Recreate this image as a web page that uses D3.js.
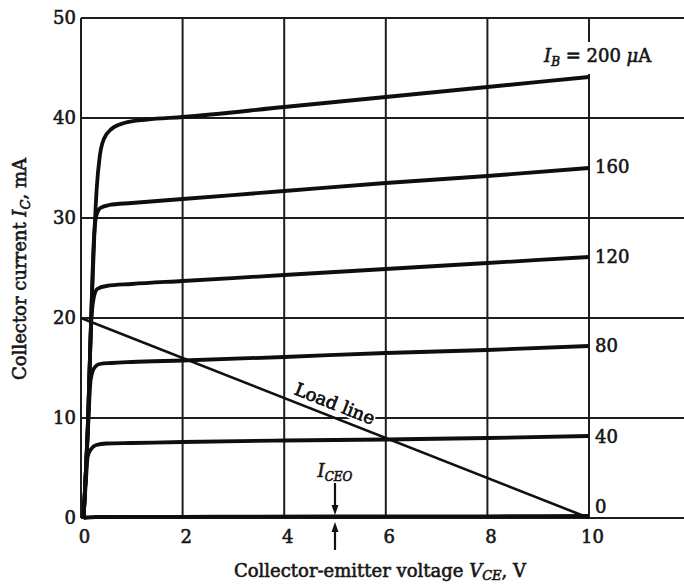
<!DOCTYPE html>
<html>
<head>
<meta charset="utf-8">
<script src="https://cdn.jsdelivr.net/npm/d3@7"></script>
<style>
  body { margin: 0; background: #fff; }
  svg text { font-family: "DejaVu Serif", serif; fill: #161616; }
  .lbl { stroke: #161616; stroke-width: 0.6px; }
</style>
</head>
<body>
<svg id="chart" width="684" height="586"></svg>
<script>
// tick values
var vTicks = [0, 2, 4, 6, 8, 10];
var iTicks = [0, 10, 20, 30, 40, 50];

// base current labels, top to bottom
var ibLabels = ["200", "160", "120", "80", "40", "0"];

// collector curves: [VCE (V), IC (mA)]
var ib200 = [[0.05, 0], [0.14, 10], [0.2, 20], [0.26, 28], [0.31, 33], [0.37, 36.2], [0.45, 37.9], [0.6, 38.9], [0.85, 39.5], [1.3, 39.85], [2, 40.1], [4, 41.1], [6, 42.1], [8, 43.1], [10, 44.1]];
var ib160 = [[0.05, 0], [0.14, 10], [0.2, 20], [0.25, 27.5], [0.3, 30.2], [0.38, 31], [0.55, 31.3], [1, 31.5], [2, 31.9], [4, 32.7], [6, 33.5], [8, 34.2], [10, 35]];
var ib120 = [[0.05, 0], [0.14, 10], [0.2, 19.5], [0.25, 22], [0.32, 22.9], [0.5, 23.2], [1, 23.4], [2, 23.7], [4, 24.3], [6, 24.9], [8, 25.5], [10, 26.1]];
var ib80 = [[0.05, 0], [0.13, 8], [0.19, 13.8], [0.26, 15], [0.37, 15.4], [0.6, 15.5], [1, 15.6], [2, 15.75], [4, 16.1], [6, 16.5], [8, 16.8], [10, 17.2]];
var ib40 = [[0.05, 0], [0.1, 4], [0.13, 6.1], [0.2, 6.9], [0.3, 7.3], [0.5, 7.45], [1, 7.5], [2, 7.6], [4, 7.75], [6, 7.85], [8, 8], [10, 8.2]];
var ib0 = [[0.05, 0], [0.3, 0.1], [2, 0.12], [5, 0.15], [8, 0.17], [10, 0.2]];
var curves = [ib200, ib160, ib120, ib80, ib40, ib0];

// load line end points
var loadV = [0, 10];
var loadI = [20, 0];

// ICEO marker position
var iceoV = 5;

var svg = d3.select("#chart");
var x = d3.scaleLinear().domain([0, 10]).range([81, 589]);
var y = d3.scaleLinear().domain([0, 50]).range([518, 18]);
var xRight = 684;
var ink = "#1a1f1c";

// grid
var grid = svg.append("g");
grid.selectAll(".hgrid").data(iTicks).enter().append("line")
    .attr("x1", x(0)).attr("x2", xRight)
    .attr("y1", function (d) { return y(d); })
    .attr("y2", function (d) { return y(d); })
    .attr("stroke", ink).attr("stroke-width", 2);
grid.selectAll(".vgrid").data(vTicks).enter().append("line")
    .attr("x1", function (d) { return x(d); })
    .attr("x2", function (d) { return x(d); })
    .attr("y1", y(0)).attr("y2", y(50))
    .attr("stroke", ink).attr("stroke-width", 2);

// axes labels via axis generators
var gx = svg.append("g").attr("transform", "translate(0," + y(0) + ")")
    .call(d3.axisBottom(x).tickValues(vTicks).tickSize(0).tickPadding(12));
var gy = svg.append("g").attr("transform", "translate(" + x(0) + ",0)")
    .call(d3.axisLeft(y).tickValues(iTicks).tickSize(0).tickPadding(5));
[gx, gy].forEach(function (g) {
    g.select(".domain").remove();
    g.selectAll("text").attr("font-family", "DejaVu Serif").attr("font-size", 18)
        .attr("fill", "#161616").attr("class", "lbl");
});
gx.selectAll("text").attr("dx", 3);

// white box behind the IB label so the 10 V line breaks there
svg.append("rect").attr("x", 540).attr("y", 42).attr("width", 128).attr("height", 32).attr("fill", "#fff");

// load line
var line = d3.line()
    .x(function (d) { return x(d[0]); })
    .y(function (d) { return y(d[1]); });
svg.append("path")
    .datum(loadV.map(function (v, i) { return [v, loadI[i]]; }))
    .attr("d", line).attr("fill", "none").attr("stroke", "#111").attr("stroke-width", 2.6);

// collector curves
var curveLine = d3.line()
    .x(function (d) { return x(d[0]); })
    .y(function (d) { return y(d[1]); })
    .curve(d3.curveMonotoneX);
svg.selectAll(".ic").data(curves).enter().append("path")
    .attr("d", curveLine).attr("fill", "none")
    .attr("stroke", "#0e0e0e").attr("stroke-width", 3.8)
    .attr("stroke-linejoin", "round").attr("stroke-linecap", "butt");

// right-hand IB labels
var labelY = [null, 167, 257, 346, 437, 507];
ibLabels.forEach(function (lab, i) {
    if (i === 0) return;
    svg.append("text").attr("class", "lbl").attr("x", x(10) + 6).attr("y", labelY[i]).attr("dy", "0.35em")
        .attr("font-size", 18).text(lab);
});
var ibT = svg.append("text").attr("class", "lbl").attr("x", 544).attr("y", 62).attr("font-size", 18);
ibT.append("tspan").attr("font-style", "italic").text("I");
ibT.append("tspan").attr("font-style", "italic").attr("font-size", 12).attr("dy", 4).text("B");
ibT.append("tspan").attr("dy", -4).text(" = " + ibLabels[0] + " ");
ibT.append("tspan").attr("font-style", "italic").text("\u03bc");
ibT.append("tspan").text("A");

// load line label
var ang = Math.atan2(y(loadI[1]) - y(loadI[0]), x(loadV[1]) - x(loadV[0])) * 180 / Math.PI;
svg.append("text")
    .attr("transform", "translate(" + x(4.9) + "," + y(10.2) + ") rotate(" + ang + ")")
    .attr("dy", -7).attr("text-anchor", "middle").attr("font-size", 18)
    .attr("stroke", "#fff").attr("stroke-width", 4).attr("paint-order", "stroke")
    .text("Load line");
svg.append("text")
    .attr("transform", "translate(" + x(4.9) + "," + y(10.2) + ") rotate(" + ang + ")")
    .attr("dy", -7).attr("text-anchor", "middle").attr("font-size", 18).attr("class", "lbl")
    .text("Load line");

// ICEO arrows
var ax = x(iceoV);
function arrow(y1, y2) {
    var dir = y2 > y1 ? 1 : -1;
    svg.append("line").attr("x1", ax).attr("x2", ax).attr("y1", y1).attr("y2", y2 - dir * 6)
        .attr("stroke", "#111").attr("stroke-width", 2.2);
    svg.append("path")
        .attr("d", "M" + (ax - 3.5) + "," + (y2 - dir * 10) + "L" + ax + "," + y2 + "L" + (ax + 3.5) + "," + (y2 - dir * 10) + "Z")
        .attr("fill", "#111");
}
arrow(y(3.5), y(0.3));
arrow(y(-3.2), y(-0.4));
var iceo = svg.append("text").attr("class", "lbl").attr("x", ax).attr("y", 477).attr("text-anchor", "middle")
    .attr("font-size", 18);
iceo.append("tspan").attr("font-style", "italic").text("I");
iceo.append("tspan").attr("font-style", "italic").attr("font-size", 12).attr("dy", 4).text("CEO");

// axis titles
var xt = svg.append("text").attr("class", "lbl").attr("x", 380).attr("y", 577).attr("text-anchor", "middle")
    .attr("font-size", 18);
xt.append("tspan").text("Collector-emitter voltage ");
xt.append("tspan").attr("font-style", "italic").text("V");
xt.append("tspan").attr("font-style", "italic").attr("font-size", 13).attr("dy", 3).text("CE");
xt.append("tspan").attr("dy", -3).text(", V");

var yt = svg.append("text").attr("class", "lbl").attr("transform", "translate(26,269) rotate(-90)")
    .attr("text-anchor", "middle").attr("font-size", 18);
yt.append("tspan").text("Collector current ");
yt.append("tspan").attr("font-style", "italic").text("I");
yt.append("tspan").attr("font-style", "italic").attr("font-size", 13).attr("dy", 4).text("C");
yt.append("tspan").attr("dy", -4).text(", mA");
</script>
</body>
</html>
